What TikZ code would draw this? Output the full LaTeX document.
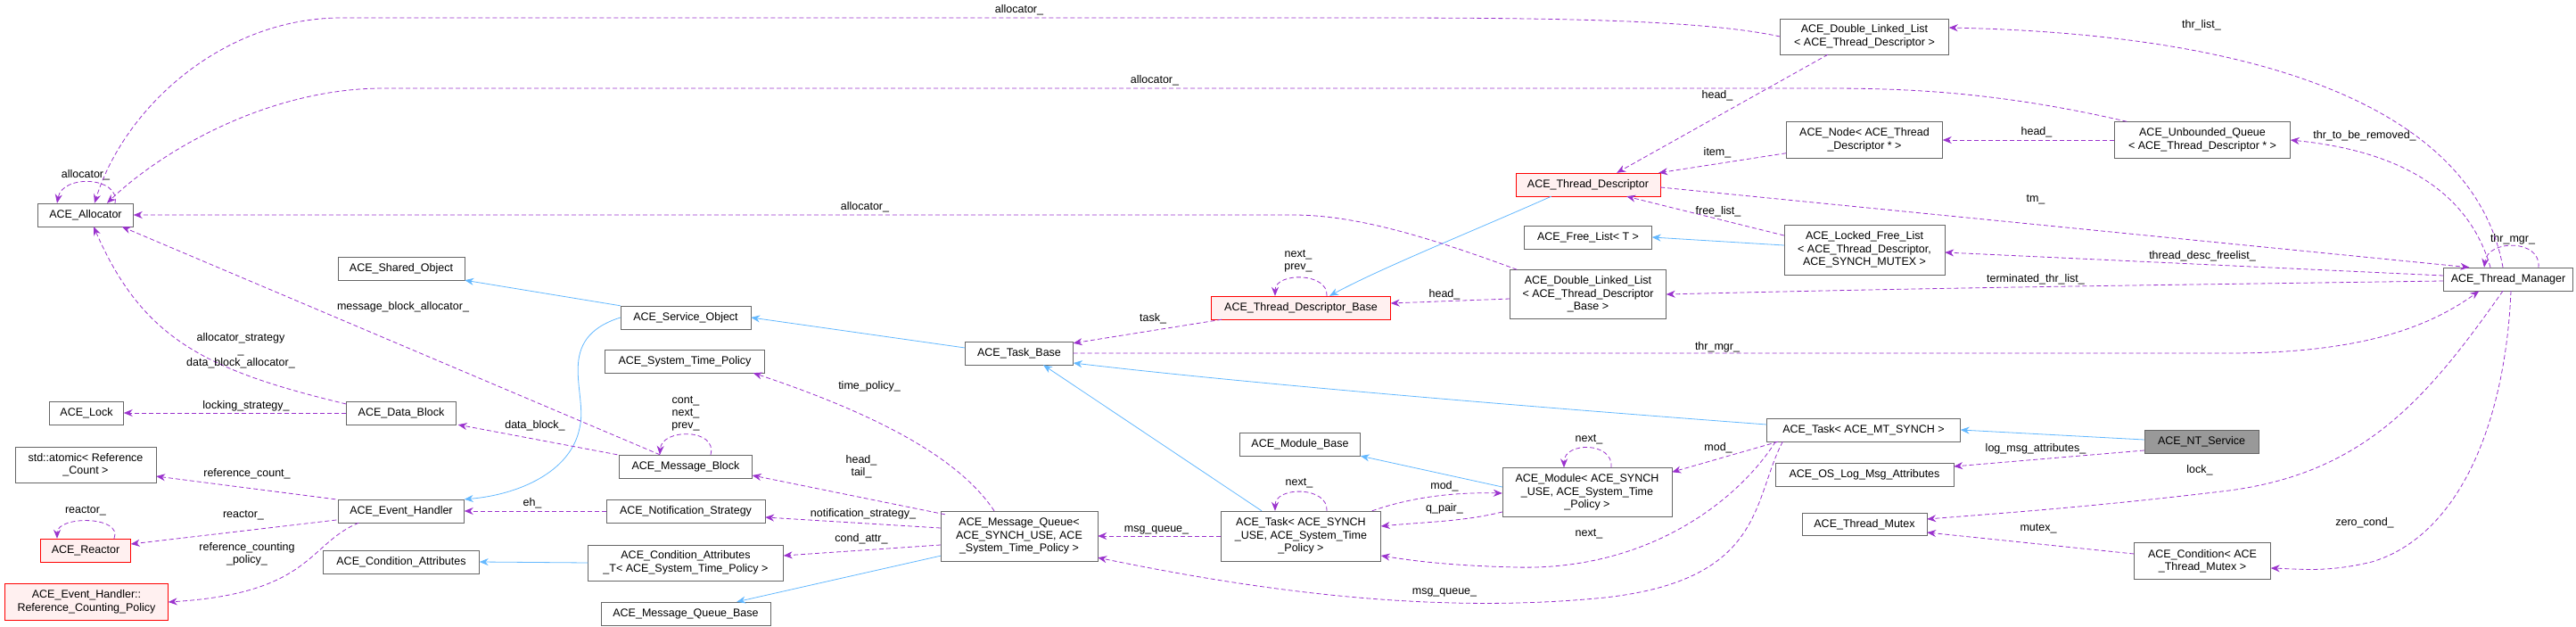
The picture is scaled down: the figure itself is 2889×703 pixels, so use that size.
\documentclass[tikz,border=0pt]{standalone}
\usepackage{fontspec}
\setmainfont{Liberation Sans}
\usetikzlibrary{arrows.meta,calc}
\definecolor{dp}{HTML}{9A32CD}
\definecolor{lb}{HTML}{63B8FF}
\begin{document}
\begin{tikzpicture}[x=1pt,y=-1pt,
 box/.style={draw=black!60, fill=white, font=\fontsize{12.5}{14.5}\selectfont, inner sep=1pt, align=center},
 redbox/.style={box, draw=red, fill=red!6},
 graybox/.style={box, fill=black!40},
 lbl/.style={font=\fontsize{12.5}{14}\selectfont, inner sep=0pt, align=center},
 usg/.style={draw=dp, dash pattern=on 5pt off 3pt, line width=0.8pt, -{Stealth[length=10pt,width=8pt]}},
 inh/.style={draw=lb, line width=0.8pt, -{Stealth[length=10pt,width=8pt]}}]
\useasboundingbox (0,0) rectangle (2889,703);
% nodes
\node[box, minimum width=107pt, minimum height=26pt] (al) at (96,241) {ACE\_Allocator};
\node[box, minimum width=142pt, minimum height=26pt] (sh) at (450,301) {ACE\_Shared\_Object};
\node[box, minimum width=146pt, minimum height=26pt] (so) at (769,356) {ACE\_Service\_Object};
\node[box, minimum width=179pt, minimum height=26pt] (stp) at (768,405) {ACE\_System\_Time\_Policy};
\node[box, minimum width=83pt, minimum height=26pt] (lk) at (97,463) {ACE\_Lock};
\node[box, minimum width=123pt, minimum height=26pt] (db) at (450,463) {ACE\_Data\_Block};
\node[box, minimum width=149pt, minimum height=26pt] (mb) at (769,523) {ACE\_Message\_Block};
\node[box, minimum width=158pt, minimum height=40pt] (at) at (96,521) {std::atomic< Reference\\\_Count >};
\node[box, minimum width=141pt, minimum height=26pt] (eh) at (450,573) {ACE\_Event\_Handler};
\node[box, minimum width=178pt, minimum height=26pt] (ns) at (769,573) {ACE\_Notification\_Strategy};
\node[redbox, minimum width=101pt, minimum height=26pt] (re) at (96,617) {ACE\_Reactor};
\node[box, minimum width=175pt, minimum height=26pt] (ca) at (450,630) {ACE\_Condition\_Attributes};
\node[box, minimum width=219pt, minimum height=40pt] (cat) at (769,631) {ACE\_Condition\_Attributes\\\_T< ACE\_System\_Time\_Policy >};
\node[redbox, minimum width=183pt, minimum height=41pt] (rcp) at (97,675) {ACE\_Event\_Handler::\\Reference\_Counting\_Policy};
\node[box, minimum width=190pt, minimum height=26pt] (mqb) at (769,688) {ACE\_Message\_Queue\_Base};
\node[redbox, minimum width=162pt, minimum height=26pt] (td) at (1781,207) {ACE\_Thread\_Descriptor};
\node[box, minimum width=143pt, minimum height=26pt] (fl) at (1781,266) {ACE\_Free\_List< T >};
\node[redbox, minimum width=201pt, minimum height=26pt] (tdb) at (1459,345) {ACE\_Thread\_Descriptor\_Base};
\node[box, minimum width=175pt, minimum height=55pt] (dllb) at (1781,330) {ACE\_Double\_Linked\_List\\< ACE\_Thread\_Descriptor\\\_Base >};
\node[box, minimum width=121pt, minimum height=26pt] (tb) at (1143,396) {ACE\_Task\_Base};
\node[box, minimum width=135pt, minimum height=26pt] (mbase) at (1458,498) {ACE\_Module\_Base};
\node[box, minimum width=190pt, minimum height=55pt] (mod) at (1780,552) {ACE\_Module< ACE\_SYNCH\\\_USE, ACE\_System\_Time\\\_Policy >};
\node[box, minimum width=179pt, minimum height=56pt] (tsu) at (1459,601) {ACE\_Task< ACE\_SYNCH\\\_USE, ACE\_System\_Time\\\_Policy >};
\node[box, minimum width=176pt, minimum height=56pt] (mq) at (1143,601) {ACE\_Message\_Queue<\\ACE\_SYNCH\_USE, ACE\\\_System\_Time\_Policy >};
\node[box, minimum width=189pt, minimum height=40pt] (dtd) at (2091,41) {ACE\_Double\_Linked\_List\\< ACE\_Thread\_Descriptor >};
\node[box, minimum width=175pt, minimum height=41pt] (nd) at (2091,157) {ACE\_Node< ACE\_Thread\\\_Descriptor * >};
\node[box, minimum width=197pt, minimum height=41pt] (uq) at (2470,157) {ACE\_Unbounded\_Queue\\< ACE\_Thread\_Descriptor * >};
\node[box, minimum width=180pt, minimum height=56pt] (lfl) at (2091,280) {ACE\_Locked\_Free\_List\\< ACE\_Thread\_Descriptor,\\ACE\_SYNCH\_MUTEX >};
\node[box, minimum width=145pt, minimum height=26pt] (tm) at (2813,313) {ACE\_Thread\_Manager};
\node[box, minimum width=217pt, minimum height=26pt] (tmt) at (2090,482) {ACE\_Task< ACE\_MT\_SYNCH >};
\node[graybox, minimum width=128pt, minimum height=26pt] (nt) at (2469,495) {ACE\_NT\_Service};
\node[box, minimum width=200pt, minimum height=26pt] (ol) at (2091,532) {ACE\_OS\_Log\_Msg\_Attributes};
\node[box, minimum width=140pt, minimum height=25pt] (mx) at (2091,588) {ACE\_Thread\_Mutex};
\node[box, minimum width=153pt, minimum height=41pt] (cnd) at (2470,629) {ACE\_Condition< ACE\\\_Thread\_Mutex >};
% inheritance
\draw[inh] (so.north west) -- (sh.south east);
\draw[inh] (so.west) .. controls (620,380) and (660,440) .. (650,480) .. controls (640,530) and (580,555) .. (eh.north east);
\draw[inh] ($(tb.west)+(0,-6)$) -- (so.east);
\draw[inh] ($(tsu.north)+(-44,0)$) -- ($(tb.south)+(27,0)$);
\draw[inh] ($(tmt.west)+(0,-6)$) .. controls (1700,455) and (1400,430) .. ($(tb.east)+(0,11)$);
\draw[inh] ($(nt.west)+(0,-2)$) -- (tmt.east);
\draw[inh] ($(mod.west)+(0,-6)$) -- (mbase.south east);
\draw[inh] (cat.west) -- (ca.east);
\draw[inh] ($(mq.south west)+(0,-6)$) -- ($(mqb.north east)+(-38,0)$);
\draw[inh] ($(td.south west)+(40,0)$) .. controls (1650,260) and (1550,300) .. ($(tdb.north)+(32,0)$);
\draw[inh] ($(lfl.west)+(0,-5)$) -- (fl.east);
% usage
\draw[usg] (dtd.west) .. controls (1900,20) and (1700,20) .. (1500,20) -- (383,20) .. controls (250,20) and (140,120) .. ($(al.north)+(10,0)$);
\node[lbl] (l1) at (1143,11) {allocator\_};
\draw[usg] ($(uq.north west)+(14,0)$) .. controls (2250,105) and (2150,99) .. (2050,99) -- (430,99) .. controls (300,99) and (180,170) .. ($(al.north)+(24,0)$);
\node[lbl] (l2) at (1295,90) {allocator\_};
\draw[usg] ($(al.north)+(33,0)$) .. controls (135,198) and (70,195) .. ($(al.north)+(-32,0)$);
\node[lbl] (l3) at (96,196) {allocator\_};
\draw[usg] ($(dllb.north west)+(8,0)$) .. controls (1600,265) and (1520,241) .. (1450,241) -- (al.east);
\node[lbl] (l4) at (970,232) {allocator\_};
\draw[usg] ($(mb.north)+(-29,0)$) -- ($(al.south east)+(-13,0)$);
\node[lbl] (l5) at (452,344) {message\_block\_allocator\_};
\draw[usg] ($(db.west)+(0,-10)$) .. controls (230,415) and (160,380) .. ($(al.south)+(9,0)$);
\node[lbl] (l6) at (270,393) {allocator\_strategy\\\_\\data\_block\_allocator\_};
\draw[usg] (db.west) -- (lk.east);
\node[lbl] (l7) at (276,455) {locking\_strategy\_};
\draw[usg] ($(mb.north west)+(-2,0)$) -- ($(db.south east)+(2,0)$);
\node[lbl] (l8) at (600,477) {data\_block\_};
\draw[usg] ($(mb.north)+(28,0)$) .. controls (805,480) and (742,480) .. ($(mb.north)+(-29,0)$);
\node[lbl] (l9) at (769,464) {cont\_\\next\_\\prev\_};
\draw[usg] ($(eh.north west)+(-3,0)$) -- ($(at.east)+(0,13)$);
\node[lbl] (l10) at (277,531) {reference\_count\_};
\draw[usg] ($(eh.west)+(-2,10)$) -- ($(re.east)+(0,-7)$);
\node[lbl] (l11) at (273,578) {reactor\_};
\draw[usg] ($(re.north)+(32,0)$) .. controls (138,578) and (64,578) .. ($(re.north)+(-32,0)$);
\node[lbl] (l12) at (96,573) {reactor\_};
\draw[usg] ($(eh.south west)+(23,0)$) .. controls (345,610) and (350,665) .. (rcp.east);
\node[lbl] (l13) at (277,621) {reference\_counting\\\_policy\_};
\draw[usg] (ns.west) -- (eh.east);
\node[lbl] (l14) at (597,564) {eh\_};
\draw[usg] ($(mq.north)+(-28,0)$) .. controls (1080,520) and (1000,470) .. ($(stp.south east)+(-13,0)$);
\node[lbl] (l15) at (975,433) {time\_policy\_};
\draw[usg] ($(mq.north west)+(5,4)$) -- ($(mb.east)+(0,10)$);
\node[lbl] (l16) at (966,523) {head\_\\tail\_};
\draw[usg] ($(mq.west)+(0,-9)$) -- ($(ns.east)+(0,7)$);
\node[lbl] (l17) at (968,576) {notification\_strategy\_};
\draw[usg] ($(mq.west)+(0,10)$) -- ($(cat.east)+(0,-8)$);
\node[lbl] (l18) at (966,604) {cond\_attr\_};
\draw[usg] (tsu.west) -- (mq.east);
\node[lbl] (l19) at (1297,594) {msg\_queue\_};
\draw[usg] ($(tsu.north)+(29,0)$) .. controls (1490,545) and (1430,545) .. ($(tsu.north)+(-29,0)$);
\node[lbl] (l20) at (1457,542) {next\_};
\draw[usg] ($(tsu.north east)+(-10,0)$) .. controls (1590,555) and (1640,552) .. ($(mod.west)+(0,1)$);
\node[lbl] (l21) at (1620,545) {mod\_};
\draw[usg] ($(mod.west)+(0,22)$) .. controls (1640,585) and (1600,585) .. ($(tsu.east)+(0,-11)$);
\node[lbl] (l22) at (1620,570) {q\_pair\_};
\draw[usg] ($(mod.north)+(27,0)$) .. controls (1810,495) and (1754,495) .. ($(mod.north)+(-26,0)$);
\node[lbl] (l23) at (1782,493) {next\_};
\draw[usg] ($(tmt.south west)+(13,0)$) -- ($(mod.north east)+(0,5)$);
\node[lbl] (l24) at (1927,502) {mod\_};
\draw[usg] ($(tmt.south west)+(10,0)$) .. controls (1950,560) and (1850,640) .. (1700,636) .. controls (1620,634) and (1580,628) .. ($(tsu.east)+(0,22)$);
\node[lbl] (l25) at (1782,599) {next\_};
\draw[usg] ($(tmt.south west)+(18,0)$) .. controls (1965,560) and (1980,650) .. (1800,670) .. controls (1600,690) and (1400,660) .. ($(mq.south east)+(0,-4)$);
\node[lbl] (l26) at (1620,664) {msg\_queue\_};
\draw[usg] ($(tdb.south west)+(12,0)$) -- ($(tb.north east)+(0,2)$);
\node[lbl] (l27) at (1293,357) {task\_};
\draw[usg] ($(tdb.north)+(29,0)$) .. controls (1490,305) and (1430,305) .. ($(tdb.north)+(-29,0)$);
\node[lbl] (l28) at (1456,293) {next\_\\prev\_};
\draw[usg] ($(dllb.west)+(0,5)$) -- ($(tdb.east)+(0,-5)$);
\node[lbl] (l29) at (1620,330) {head\_};
\draw[usg] ($(dtd.south)+(-41,0)$) -- ($(td.north east)+(-49,0)$);
\node[lbl] (l30) at (1926,107) {head\_};
\draw[usg] ($(nd.south west)+(0,-6)$) -- ($(td.north east)+(-2,0)$);
\node[lbl] (l31) at (1926,171) {item\_};
\draw[usg] ($(lfl.west)+(0,-16)$) -- ($(td.south east)+(-38,0)$);
\node[lbl] (l32) at (1927,237) {free\_list\_};
\draw[usg] (uq.west) -- (nd.east);
\node[lbl] (l33) at (2284,148) {head\_};
\draw[usg] ($(td.east)+(0,3)$) -- ($(tm.north west)+(29,0)$);
\node[lbl] (l34) at (2283,224) {tm\_};
\draw[usg] ($(tm.west)+(0,-4)$) -- ($(lfl.east)+(0,3)$);
\node[lbl] (l35) at (2470,287) {thread\_desc\_freelist\_};
\draw[usg] ($(tm.west)+(0,2)$) .. controls (2400,320) and (2200,322) .. ($(dllb.east)+(0,0)$);
\node[lbl] (l36) at (2283,313) {terminated\_thr\_list\_};
\draw[usg] (tb.east) -- (2500,396) .. controls (2640,396) and (2720,370) .. ($(tm.south west)+(40,0)$);
\node[lbl] (l37) at (1926,389) {thr\_mgr\_};
\draw[usg] ($(tm.north)+(34,0)$) .. controls (2850,268) and (2790,268) .. ($(tm.north)+(-27,0)$);
\node[lbl] (l38) at (2818,268) {thr\_mgr\_};
\draw[usg] ($(tm.north)+(-6,0)$) .. controls (2780,150) and (2600,40) .. ($(dtd.east)+(0,-10)$);
\node[lbl] (l39) at (2469,28) {thr\_list\_};
\draw[usg] ($(tm.north)+(-20,0)$) .. controls (2770,220) and (2700,170) .. (uq.east);
\node[lbl] (l40) at (2652,152) {thr\_to\_be\_removed\_};
\draw[usg] ($(nt.west)+(0,10)$) -- ($(ol.east)+(0,-9)$);
\node[lbl] (l41) at (2283,503) {log\_msg\_attributes\_};
\draw[usg] ($(tm.south)+(-6,0)$) .. controls (2720,450) and (2650,530) .. (2500,550) .. controls (2350,568) and (2250,575) .. ($(mx.east)+(0,-6)$);
\node[lbl] (l42) at (2467,527) {lock\_};
\draw[usg] ($(cnd.west)+(0,-8)$) -- ($(mx.east)+(0,9)$);
\node[lbl] (l43) at (2286,593) {mutex\_};
\draw[usg] ($(tm.south)+(3,0)$) .. controls (2810,470) and (2760,600) .. (2660,630) .. controls (2610,642) and (2580,638) .. ($(cnd.east)+(0,8)$);
\node[lbl] (l44) at (2652,586) {zero\_cond\_};
\end{tikzpicture}
\end{document}
